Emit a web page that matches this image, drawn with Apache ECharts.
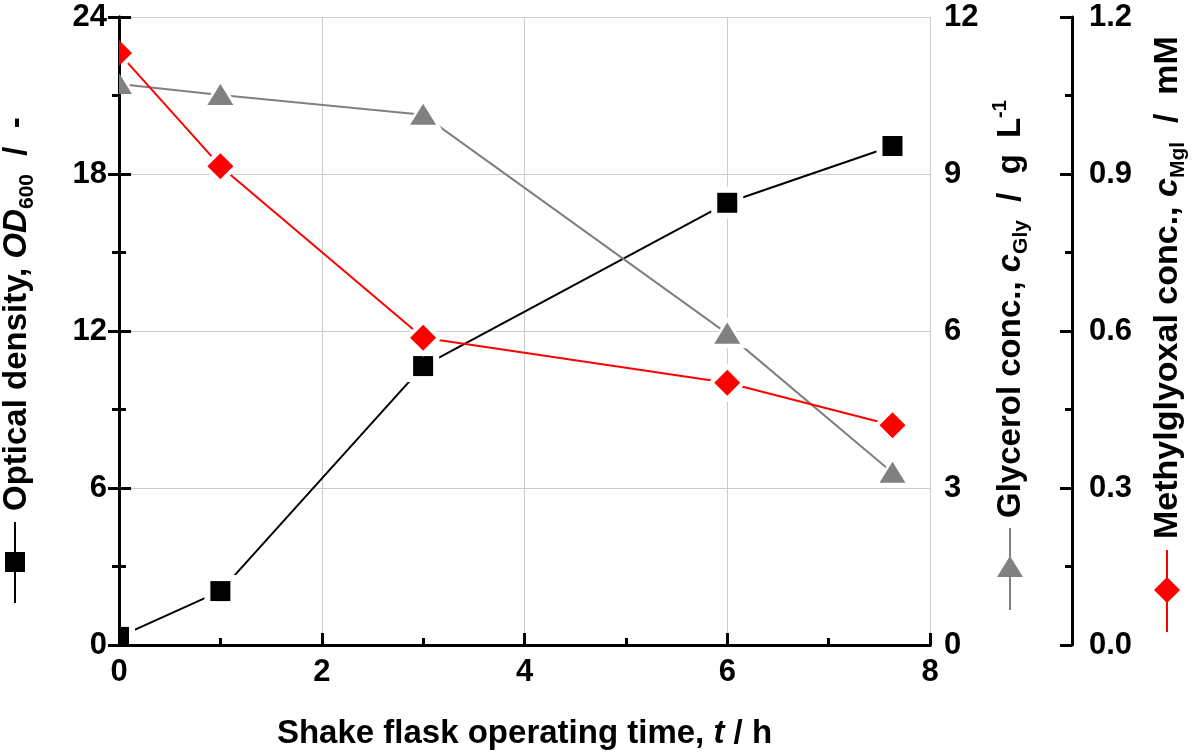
<!DOCTYPE html>
<html>
<head>
<meta charset="utf-8">
<script src="https://cdn.jsdelivr.net/npm/echarts@6/dist/echarts.min.js"></script>
<style>
  html, body { margin: 0; padding: 0; background: #fff; }
  #main { width: 1200px; height: 756px; }
</style>
</head>
<body>
<div id="main"></div>
<script type="text/javascript">
    // 数据
    var timeH = [0, 1, 3, 6, 7.63];
    var odValues = [0.31, 2.06, 10.66, 16.9, 19.07];
    var glyValues = [10.72, 10.51, 10.13, 5.95, 3.29];
    var mglValues = [1.131, 0.915, 0.587, 0.501, 0.420];

    var xTicks = { min: 0, max: 8, interval: 2 };
    var odTicks = { min: 0, max: 24, interval: 6 };
    var glyTicks = { min: 0, max: 12, interval: 3 };
    var mglTicks = { min: 0, max: 1.2, interval: 0.3 };

    var FONT = '"Liberation Sans", Arial, sans-serif';
    var GRAY = '#808080';
    var RED = '#ff0000';

    function pairs(ys) {
        return timeH.map(function (t, i) { return [t, ys[i]]; });
    }

    function richTitle(size) {
        return {
            n: { fontFamily: FONT, fontWeight: 'bold', fontSize: size, lineHeight: 42, fill: '#000', color: '#000' },
            i: { fontFamily: FONT, fontWeight: 'bold', fontStyle: 'italic', fontSize: size, lineHeight: 42, fill: '#000', color: '#000' },
            sub: { fontFamily: FONT, fontWeight: 'bold', fontSize: 21, lineHeight: 24, verticalAlign: 'bottom', fill: '#000', color: '#000' },
            sup: { fontFamily: FONT, fontWeight: 'bold', fontSize: 20, lineHeight: 24, verticalAlign: 'top', fill: '#000', color: '#000' },
            gap: { fontSize: size, lineHeight: 42, width: 16 }
        };
    }

    // 多边形按矩形裁切（t=0 处的标记被坐标区切掉一半）
    function clipPoly(pts, r) {
        var bounds = [[0, r.x, 1], [0, r.x + r.width, -1], [1, r.y, 1], [1, r.y + r.height, -1]];
        bounds.forEach(function (b) {
            var k = b[0], v = b[1], s = b[2], out = [];
            for (var i = 0; i < pts.length; i++) {
                var a = pts[i], c = pts[(i + 1) % pts.length];
                var ina = (a[k] - v) * s >= 0, inc = (c[k] - v) * s >= 0;
                if (ina) out.push(a);
                if (ina !== inc) {
                    var t = (v - a[k]) / (c[k] - a[k]);
                    out.push([a[0] + t * (c[0] - a[0]), a[1] + t * (c[1] - a[1])]);
                }
            }
            pts = out;
        });
        return pts;
    }

    // 标记 + 白色留白（Origin 风格，线在标记前断开）
    function makeMarker(shapeFn, size, color) {
        return function (params, api) {
            var p = api.coord([api.value(0), api.value(1)]);
            var cs = params.coordSys;
            var inner = { x: cs.x + 2, y: cs.y + 2, width: cs.width - 4, height: cs.height - 4 };
            return {
                type: 'group',
                children: [
                    { type: 'polygon', shape: { points: clipPoly(shapeFn(p[0], p[1], size + 6), inner) }, style: { fill: '#fff' } },
                    { type: 'polygon', shape: { points: clipPoly(shapeFn(p[0], p[1], size), cs) }, style: { fill: color } }
                ]
            };
        };
    }
    var squareMarker = makeMarker(function (x, y, h) {
        return [[x - h, y - h], [x + h, y - h], [x + h, y + h], [x - h, y + h]];
    }, 10, '#000');
    var triangleMarker = makeMarker(function (x, y, h) {
        return [[x, y - h * 0.85], [x + h, y + h * 0.77], [x - h, y + h * 0.77]];
    }, 13, GRAY);
    var diamondMarker = makeMarker(function (x, y, h) {
        return [[x, y - h], [x + h, y], [x, y + h], [x - h, y]];
    }, 13, RED);

    var axisLabelStyle = { fontFamily: FONT, fontWeight: 'bold', fontSize: 31, color: '#000' };
    var axisLineStyle = { show: true, lineStyle: { color: '#000', width: 3 } };

    var myChart = echarts.init(document.getElementById('main'));
    var option = {
        backgroundColor: '#fff',
        animation: false,
        grid: { left: 119, right: 270, top: 17, bottom: 111, containLabel: false, outerBoundsMode: 'none' },
        xAxis: [{
            type: 'value', position: 'bottom',
            min: xTicks.min, max: xTicks.max, interval: xTicks.interval,
            axisLine: axisLineStyle,
            axisTick: { show: true, inside: true, length: 12, lineStyle: { width: 3, color: '#000' } },
            minorTick: { show: true, splitNumber: 2, length: 7, lineStyle: { width: 3, color: '#000' } },
            splitLine: { show: true, lineStyle: { color: '#cccccc', width: 1 } },
            axisLabel: Object.assign({ margin: 12 }, axisLabelStyle),
            name: '{n|Shake flask operating time, }{i|t}{n| / h}',
            nameLocation: 'middle', nameGap: 68,
            nameTextStyle: { fontFamily: FONT, fontWeight: 'bold', fontSize: 33, color: '#000', rich: richTitle(33) }
        }, {
            type: 'value', position: 'top',
            min: xTicks.min, max: xTicks.max, interval: xTicks.interval,
            axisLine: axisLineStyle,
            axisTick: { show: false }, axisLabel: { show: false }, splitLine: { show: false }
        }],
        yAxis: [{
            type: 'value', position: 'left',
            min: odTicks.min, max: odTicks.max, interval: odTicks.interval,
            axisLine: axisLineStyle,
            axisTick: { show: true, inside: true, length: 12, lineStyle: { width: 3, color: '#000' } },
            minorTick: { show: true, splitNumber: 2, length: 7, lineStyle: { width: 3, color: '#000' } },
            splitLine: { show: true, lineStyle: { color: '#cccccc', width: 1 } },
            axisLabel: Object.assign({ margin: 12 }, axisLabelStyle)
        }, {
            type: 'value', position: 'right',
            min: glyTicks.min, max: glyTicks.max, interval: glyTicks.interval,
            axisLine: axisLineStyle,
            axisTick: { show: true, inside: true, length: 11, lineStyle: { width: 3, color: '#000' } },
            minorTick: { show: true, splitNumber: 2, length: 7, lineStyle: { width: 3, color: '#000' } },
            splitLine: { show: false },
            axisLabel: Object.assign({ margin: 14 }, axisLabelStyle)
        }, {
            type: 'value', position: 'right', offset: 142,
            min: mglTicks.min, max: mglTicks.max, interval: mglTicks.interval,
            axisLine: axisLineStyle,
            axisTick: { show: true, inside: true, length: 12, lineStyle: { width: 3, color: '#000' } },
            minorTick: { show: true, splitNumber: 2, length: 7, lineStyle: { width: 3, color: '#000' } },
            splitLine: { show: false },
            axisLabel: Object.assign({ margin: 17, formatter: function (v) { return v.toFixed(1); } }, axisLabelStyle)
        }],
        series: [
            { name: 'OD', type: 'line', yAxisIndex: 0, data: pairs(odValues), showSymbol: false, symbol: 'none', lineStyle: { color: '#000', width: 2 }, z: 2 },
            { name: 'Gly', type: 'line', yAxisIndex: 1, data: pairs(glyValues), showSymbol: false, symbol: 'none', lineStyle: { color: GRAY, width: 2 }, z: 2 },
            { name: 'Mgl', type: 'line', yAxisIndex: 2, data: pairs(mglValues), showSymbol: false, symbol: 'none', lineStyle: { color: RED, width: 2 }, z: 2 },
            { type: 'custom', yAxisIndex: 0, data: pairs(odValues), renderItem: squareMarker, encode: { x: 0, y: 1 }, z: 3 },
            { type: 'custom', yAxisIndex: 1, data: pairs(glyValues), renderItem: triangleMarker, encode: { x: 0, y: 1 }, z: 3 },
            { type: 'custom', yAxisIndex: 2, data: pairs(mglValues), renderItem: diamondMarker, encode: { x: 0, y: 1 }, z: 3 }
        ],
        graphic: [
            // 左轴标题 + 图例符号
            { type: 'line', shape: { x1: 15, y1: 522, x2: 15, y2: 603 }, style: { stroke: '#000', lineWidth: 2 } },
            { type: 'rect', shape: { x: 5, y: 552, width: 20, height: 20 }, style: { fill: '#000' } },
            { type: 'text', x: 17, y: 511, rotation: Math.PI / 2,
              style: { text: '{n|Optical density, }{i|OD}{sub|600}{n|  /  -}', rich: richTitle(33), align: 'left', verticalAlign: 'middle' } },
            // 甘油
            { type: 'line', shape: { x1: 1010, y1: 528, x2: 1010, y2: 610 }, style: { stroke: GRAY, lineWidth: 2 } },
            { type: 'polygon', shape: { points: [[1010, 556], [1023, 577], [997, 577]] }, style: { fill: GRAY } },
            { type: 'text', x: 1011, y: 518, rotation: Math.PI / 2,
              style: { text: '{n|Glycerol conc., }{i|c}{sub|Gly}{n|  /  g}{gap| }{n|L}{sup|-1}', rich: richTitle(33), align: 'left', verticalAlign: 'middle' } },
            // 甲基乙二醛
            { type: 'line', shape: { x1: 1167, y1: 550, x2: 1167, y2: 632 }, style: { stroke: RED, lineWidth: 2 } },
            { type: 'polygon', shape: { points: [[1167, 577], [1180, 590], [1167, 603], [1154, 590]] }, style: { fill: RED } },
            { type: 'text', x: 1168, y: 539, rotation: Math.PI / 2,
              style: { text: '{n|Methylglyoxal conc., }{i|c}{sub|Mgl}{n|  /  mM}', rich: richTitle(34), align: 'left', verticalAlign: 'middle' } }
        ]
    };
    myChart.setOption(option);
</script>
</body>
</html>
